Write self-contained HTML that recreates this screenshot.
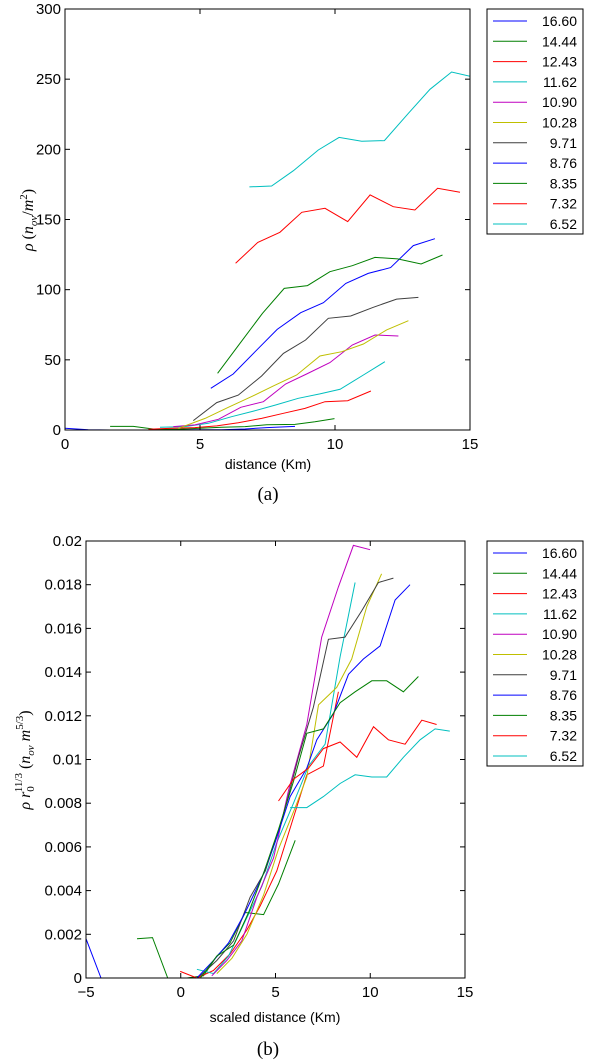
<!DOCTYPE html>
<html><head><meta charset="utf-8"><style>
body{margin:0;background:#fff;}
svg{display:block;font-family:"Liberation Sans",sans-serif;}
</style></head><body>
<svg id="svg" width="600" height="1060" xmlns="http://www.w3.org/2000/svg"></svg>
<script>
const labels = ["16.60","14.44","12.43","11.62","10.90","10.28","9.71","8.76","8.35","7.32","6.52"];
const colors = ["#0000ff","#007f00","#ff0000","#00bfbf","#bf00bf","#bfbf00","#3f3f3f","#0000ff","#007f00","#ff0000","#00bfbf"];
const xTicksA = [0,5,10,15];
const yTicksA = [0,50,100,150,200,250,300];
const xTicksB = [-5,0,5,10,15];
const yTicksB = [0,0.002,0.004,0.006,0.008,0.01,0.012,0.014,0.016,0.018,0.02];
const yTickLabelsB = ["0","0.002","0.004","0.006","0.008","0.01","0.012","0.014","0.016","0.018","0.02"];
// Panel (a) data
const aX0 = [0,0.86,1.67,2.53,3.33,4.2,5.0,5.8,6.67,7.47,8.52];
const aY0 = [1.2,0.2,0,0,0,0.2,0.2,0.2,0.7,1.7,2.6];
const aX1 = [1.67,2.53,3.33,4.2,5.0,5.8,6.67,7.47,8.52,9.26,9.98];
const aY1 = [2.6,2.6,0.5,0.5,1.2,1.9,2.4,3.8,4.0,5.9,8.1];
const aX2 = [3.09,3.95,4.81,5.62,6.42,7.28,8.09,8.89,9.63,10.47,11.33];
const aY2 = [0.5,1.2,1.7,2.9,5.2,8.3,11.9,15.4,20.2,20.9,27.8];
const aX3 = [3.52,4.44,5.31,6.17,6.98,7.8,8.64,9.44,10.19,11.05,11.85];
const aY3 = [1.9,2.4,4.8,9.5,13.5,17.8,22.6,25.7,29.0,39.2,48.7];
const aX4 = [4.01,4.81,5.68,6.51,7.35,8.17,8.95,9.81,10.64,11.48,12.35];
const aY4 = [2.4,3.6,7.6,16.2,20.2,32.8,39.9,48.0,60.6,67.7,67.0];
const aX5 = [4.2,5.19,6.05,6.91,7.72,8.58,9.44,10.25,11.05,11.91,12.72];
const aY5 = [1.2,8.3,16.2,23.8,31.4,39.2,52.7,55.8,61.3,71.3,77.9];
const aX6 = [4.75,5.62,6.42,7.28,8.09,8.91,9.75,10.58,11.42,12.28,13.09];
const aY6 = [6.7,19.5,24.9,38.5,54.6,64.1,79.6,81.2,87.4,93.3,94.5];
const aX7 = [5.4,6.23,7.04,7.86,8.73,9.57,10.4,11.23,12.06,12.9,13.7];
const aY7 = [29.7,39.9,55.8,71.7,83.6,90.7,104.5,111.6,115.7,131.4,136.3];
const aX8 = [5.65,6.48,7.31,8.12,8.98,9.81,10.64,11.48,12.32,13.19,13.98];
const aY8 = [40.4,61.8,83.1,100.9,102.9,112.8,117.1,123.0,121.9,118.3,124.7];
const aX9 = [6.32,7.14,7.96,8.77,9.63,10.47,11.3,12.16,12.96,13.8,14.63];
const aY9 = [118.8,133.7,140.9,155.1,158.0,148.5,167.5,159.1,156.8,172.2,169.4];
const aX10 = [6.83,7.65,8.46,9.38,10.15,10.99,11.83,12.72,13.52,14.32,15.16];
const aY10 = [173.2,173.9,184.8,199.5,208.5,205.7,206.2,225.7,242.8,255.1,251.3];
// Panel (b) data
const bX0 = [-5,-4.21,-3,-1.5,0,0.8,1.2];
const bY0 = [0.0018,0,0,0,0,0,0];
const bX1 = [-2.31,-1.49,-0.69,0.33,1.2,1.9,2.6,3.4,4.37,5.16,6.04];
const bY1 = [0.0018,0.00185,0,0,0.0001,0.001,0.0016,0.003,0.0029,0.0043,0.0063];
const bX2 = [-0.03,0.85,1.73,2.6,3.49,4.19,5.07,5.86,6.65,7.53,8.32];
const bY2 = [0.0003,0,0.00035,0.0011,0.0022,0.0033,0.0049,0.0071,0.0093,0.0097,0.0131];
const bX3 = [0.85,1.73,2.52,3.4,4.28,5.07,5.95,6.74,7.62,8.41,9.2];
const bY3 = [0.0004,0.0002,0.001,0.0026,0.0042,0.0062,0.008,0.0097,0.0107,0.0147,0.0181];
const bX4 = [1.64,2.43,3.22,4.02,4.9,5.69,6.65,7.44,8.32,9.11,9.99];
const bY4 = [0.0001,0.0008,0.0017,0.0037,0.0055,0.0086,0.0116,0.0156,0.0179,0.0198,0.0196];
const bX5 = [1.9,2.7,3.49,4.37,5.16,6.04,6.65,7.27,8.23,9.02,9.82,10.6];
const bY5 = [0.0002,0.0009,0.002,0.0038,0.0059,0.0078,0.0092,0.0125,0.0133,0.0146,0.017,0.0185];
const bX6 = [1.03,1.9,2.79,3.66,4.46,5.33,6.21,7.0,7.79,8.67,9.55,10.43,11.22];
const bY6 = [0.0001,0.0008,0.0017,0.0037,0.0049,0.0072,0.0101,0.0124,0.0155,0.0156,0.0168,0.0181,0.0183];
const bX7 = [0.85,1.73,2.52,3.4,4.28,4.98,5.77,6.65,7.18,8.06,8.85,9.64,10.52,11.31,12.1];
const bY7 = [0,0.0008,0.0016,0.003,0.0046,0.0062,0.0083,0.0096,0.0109,0.0121,0.0139,0.0146,0.0152,0.0173,0.018];
const bX8 = [1.03,1.9,2.79,3.58,4.37,5.16,5.95,6.65,7.53,8.41,9.2,10.08,10.87,11.75,12.54];
const bY8 = [0,0.001,0.0015,0.003,0.0048,0.0068,0.009,0.0112,0.0114,0.0126,0.0131,0.0136,0.0136,0.0131,0.0138];
const bX9 = [5.16,5.95,6.74,7.53,8.41,9.29,10.17,10.96,11.84,12.72,13.5];
const bY9 = [0.0081,0.0091,0.0096,0.0105,0.0108,0.0101,0.0115,0.0109,0.0107,0.0118,0.0116];
const bX10 = [5.77,6.65,7.53,8.41,9.2,10.08,10.87,11.75,12.63,13.42,14.2];
const bY10 = [0.0078,0.0078,0.0083,0.0089,0.0093,0.0092,0.0092,0.0101,0.0109,0.0114,0.0113];

const NS="http://www.w3.org/2000/svg";
const svg=document.getElementById('svg');
function mk(tag,attrs,parent){const e=document.createElementNS(NS,tag);for(const k in attrs)e.setAttribute(k,attrs[k]);(parent||svg).appendChild(e);return e;}

function panel(id,box,xr,yr,xt,yt,ytl,xs,ys,legTop){
  const sx=v=>box.x+(v-xr[0])/(xr[1]-xr[0])*box.w;
  const sy=v=>box.y+box.h-(v-yr[0])/(yr[1]-yr[0])*box.h;
  const g=mk('g',{});
  
  
  const cp=mk('clipPath',{id:'clip'+id},g);
  mk('rect',{x:box.x,y:box.y,width:box.w,height:box.h},cp);
  const lines=mk('g',{'clip-path':'url(#clip'+id+')'},g);
  xs.forEach((X,i)=>{
    const pts=X.map((x,j)=>sx(x).toFixed(1)+','+sy(ys[i][j]).toFixed(1)).join(' ');
    const pl=mk('polyline',{points:pts,fill:'none',stroke:colors[i],'stroke-width':1},lines);
    
    
  });
  const fr=mk('rect',{x:box.x,y:box.y,width:box.w,height:box.h,fill:'none',stroke:'#000','stroke-width':1},g);
  
  
  xt.forEach(v=>{const x=sx(v);
    mk('line',{x1:x,x2:x,y1:box.y+box.h,y2:box.y+box.h-5,stroke:'#000'},g);
    mk('line',{x1:x,x2:x,y1:box.y,y2:box.y+5,stroke:'#000'},g);
    const t=mk('text',{x:x,y:box.y+box.h+19,'font-size':15,'text-anchor':'middle'},g);
    t.textContent=(v<0?'\u2212'+(-v):String(v));
    
    
  });
  yt.forEach((v,i)=>{const y=sy(v);
    mk('line',{x1:box.x,x2:box.x+5,y1:y,y2:y,stroke:'#000'},g);
    mk('line',{x1:box.x+box.w,x2:box.x+box.w-5,y1:y,y2:y,stroke:'#000'},g);
    const t=mk('text',{x:box.x-4,y:y+5,'font-size':15,'text-anchor':'end'},g);
    t.textContent=ytl?ytl[i]:String(v);
    
    
  });
  const lg=mk('g',{},g);
  
  
  mk('rect',{x:487,y:legTop,width:96,height:225,fill:'#fff',stroke:'#000'},lg);
  labels.forEach((l,i)=>{const y=legTop+12+i*20.3;
    mk('line',{x1:493,x2:527,y1:y,y2:y,stroke:colors[i]},lg);
    const t=mk('text',{x:577,y:y+5,'font-size':14,'text-anchor':'end'},lg);
    t.textContent=l;
    
    
  });
  return g;
}
panel('a',{x:65,y:9,w:405,h:421},[0,15],[0,300],xTicksA,yTicksA,null,
 [aX0,aX1,aX2,aX3,aX4,aX5,aX6,aX7,aX8,aX9,aX10],[aY0,aY1,aY2,aY3,aY4,aY5,aY6,aY7,aY8,aY9,aY10],9);
panel('b',{x:86,y:541,w:379,h:437},[-5,15],[0,0.02],xTicksB,yTicksB,yTickLabelsB,
 [bX0,bX1,bX2,bX3,bX4,bX5,bX6,bX7,bX8,bX9,bX10],[bY0,bY1,bY2,bY3,bY4,bY5,bY6,bY7,bY8,bY9,bY10],541);

function txt(s,attrs,name){const t=mk('text',attrs);t.innerHTML=s;return t;}
txt('distance (Km)',{x:268,y:469,'font-size':14,'text-anchor':'middle'},'x-axis-title-a');
txt('(a)',{x:268,y:500,'font-size':19,'text-anchor':'middle','font-family':'Liberation Serif'},'caption-a');
txt('scaled distance (Km)',{x:275,y:1022,'font-size':14,'text-anchor':'middle'},'x-axis-title-b');
txt('(b)',{x:268,y:1055,'font-size':19,'text-anchor':'middle','font-family':'Liberation Serif'},'caption-b');
txt('<tspan font-style="italic">ρ</tspan> (<tspan font-style="italic">n<tspan font-size="11" dy="4">ov</tspan></tspan><tspan dy="-4">/</tspan><tspan font-style="italic">m</tspan><tspan font-size="11" dy="-6">2</tspan><tspan dy="6">)</tspan>',
 {transform:'translate(33,220) rotate(-90)','font-size':16,'text-anchor':'middle','font-family':'Liberation Serif'},'y-axis-title-a');
txt('<tspan font-style="italic">ρ r</tspan><tspan font-size="11" dy="4">0</tspan><tspan font-size="11" dy="-12" dx="-6">11/3</tspan><tspan dy="8"> (</tspan><tspan font-style="italic">n<tspan font-size="11" dy="4">ov</tspan></tspan><tspan font-style="italic" dy="-4"> m</tspan><tspan font-size="11" dy="-7">5/3</tspan><tspan dy="7">)</tspan>',
 {transform:'translate(30,760) rotate(-90)','font-size':16,'text-anchor':'middle','font-family':'Liberation Serif'},'y-axis-title-b');
</script>
</body></html>
